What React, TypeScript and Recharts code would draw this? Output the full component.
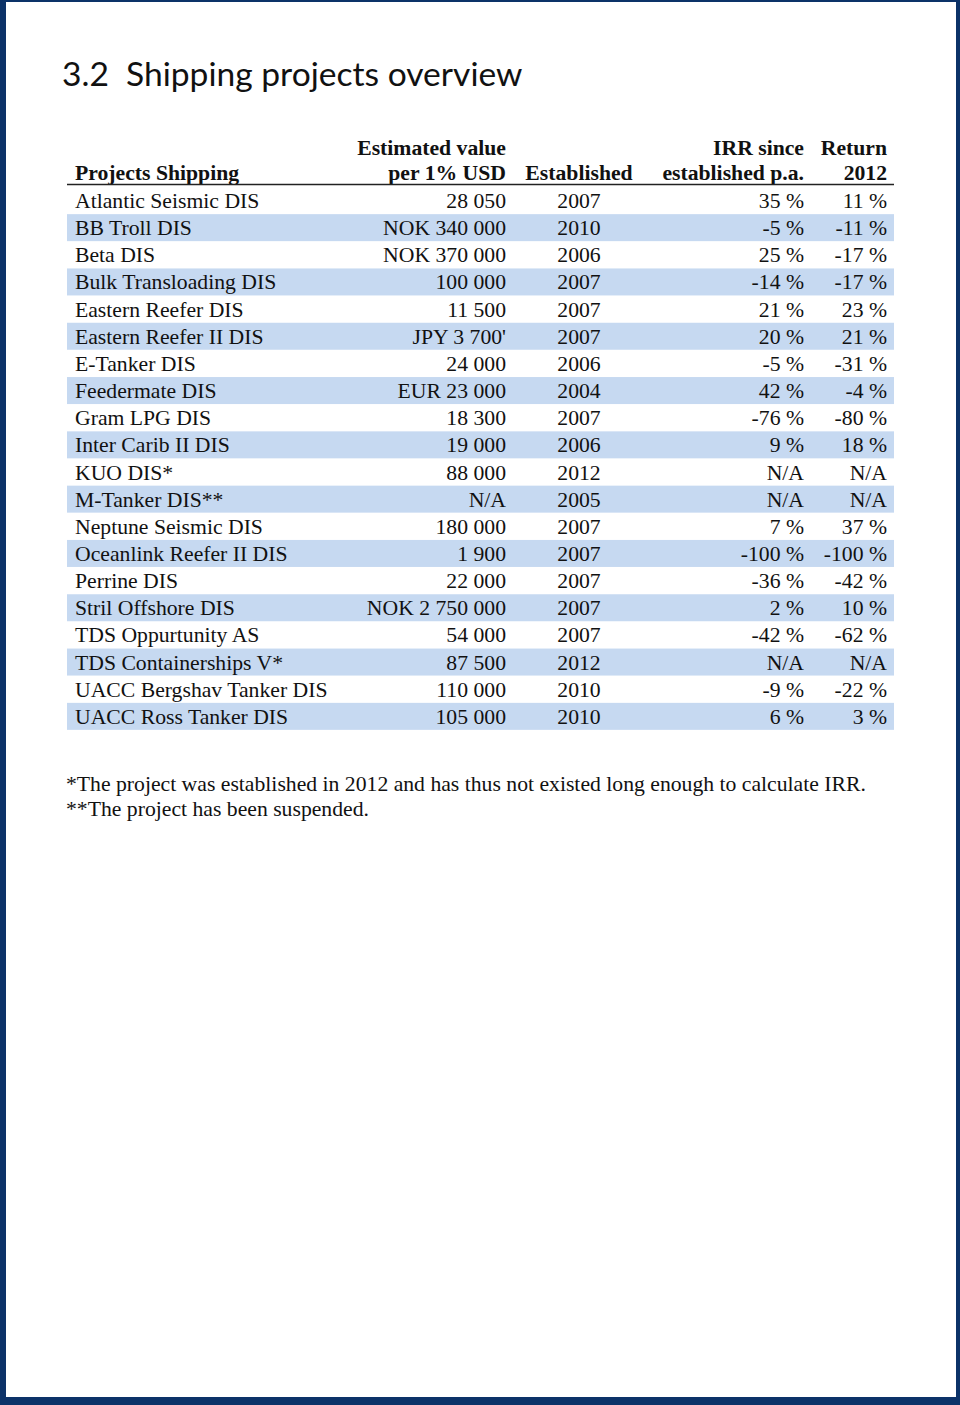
import { BarChart, Bar, XAxis, YAxis, LabelList } from "recharts";

const projects = [
  "Atlantic Seismic DIS",
  "BB Troll DIS",
  "Beta DIS",
  "Bulk Transloading DIS",
  "Eastern Reefer DIS",
  "Eastern Reefer II DIS",
  "E-Tanker DIS",
  "Feedermate DIS",
  "Gram LPG DIS",
  "Inter Carib II DIS",
  "KUO DIS*",
  "M-Tanker DIS**",
  "Neptune Seismic DIS",
  "Oceanlink Reefer II DIS",
  "Perrine DIS",
  "Stril Offshore DIS",
  "TDS Oppurtunity AS",
  "TDS Containerships V*",
  "UACC Bergshav Tanker DIS",
  "UACC Ross Tanker DIS",
];

const estValue = [
  "28 050", "NOK 340 000", "NOK 370 000", "100 000", "11 500", "JPY 3 700'",
  "24 000", "EUR 23 000", "18 300", "19 000", "88 000", "N/A", "180 000",
  "1 900", "22 000", "NOK 2 750 000", "54 000", "87 500", "110 000", "105 000",
];

const established = [
  2007, 2010, 2006, 2007, 2007, 2007, 2006, 2004, 2007, 2006, 2012, 2005,
  2007, 2007, 2007, 2007, 2007, 2012, 2010, 2010,
];

const irr: (number | null)[] = [
  35, -5, 25, -14, 21, 20, -5, 42, -76, 9, null, null, 7, -100, -36, 2, -42,
  null, -9, 6,
];

const return2012: (number | null)[] = [
  11, -11, -17, -17, 23, 21, -31, -4, -80, 18, null, null, 37, -100, -42, 10,
  -62, null, -22, 3,
];

const footnotes = [
  "*The project was established in 2012 and has thus not existed long enough to calculate IRR.",
  "**The project has been suspended.",
];

const pct = (v: number | null) => (v === null ? "N/A" : `${v} %`);

const rows = projects.map((name, i) => ({
  name,
  value: estValue[i],
  established: established[i],
  irr: pct(irr[i]),
  ret: pct(return2012[i]),
}));

const SERIF = "'Liberation Serif', 'Times New Roman', serif";
const FS = 21.7;
const BORDER = "#0c3268";
const STRIPE = "#c6d9f1";

// column anchors, relative to the table's left edge (67px)
const COLS = {
  name: { dx: 8, anchor: "start" },
  value: { dx: 439, anchor: "end" },
  established: { dx: 512, anchor: "middle" },
  irr: { dx: 737, anchor: "end" },
  ret: { dx: 820, anchor: "end" },
} as const;

const cell = (col: keyof typeof COLS) => (props: any) => {
  const vb = props.viewBox || props;
  const y = vb.y + vb.height / 2 + 7.5;
  return (
    <text
      x={67 + COLS[col].dx}
      y={y}
      textAnchor={COLS[col].anchor}
      fontFamily={SERIF}
      fontSize={FS}
      fill="#111"
    >
      {props.value}
    </text>
  );
};

export default function App() {
  return (
    <div
      style={{
        position: "absolute",
        left: 0,
        top: 0,
        width: 960,
        height: 1405,
        boxSizing: "border-box",
        borderLeft: `6px solid ${BORDER}`,
        borderTop: `2px solid ${BORDER}`,
        borderRight: `4px solid ${BORDER}`,
        borderBottom: `8px solid ${BORDER}`,
        background: "#fff",
      }}
    >
      <svg
        width={960}
        height={1405}
        style={{ position: "absolute", left: -6, top: -2 }}
      >
        <text x={62} y={86} fontFamily="Lato, 'Noto Sans', sans-serif" fontSize={33.6} fill="#111">
          3.2{"\u00a0\u00a0"}Shipping projects overview
        </text>
        <g fontFamily={SERIF} fontSize={FS} fontWeight="bold" fill="#111">
          <text x={75} y={180}>Projects Shipping</text>
          <text x={506} y={155} textAnchor="end">Estimated value</text>
          <text x={506} y={180} textAnchor="end">per 1% USD</text>
          <text x={579} y={180} textAnchor="middle">Established</text>
          <text x={804} y={155} textAnchor="end">IRR since</text>
          <text x={804} y={180} textAnchor="end">established p.a.</text>
          <text x={887} y={155} textAnchor="end">Return</text>
          <text x={887} y={180} textAnchor="end">2012</text>
        </g>
        <line x1={67} x2={894} y1={184.5} y2={184.5} stroke="#222" strokeWidth={1.3} />
        <g fontFamily={SERIF} fontSize={FS} fill="#111">
          {footnotes.map((t, i) => (
            <text key={i} x={66} y={791 + i * 25}>
              {t}
            </text>
          ))}
        </g>
      </svg>
      <div style={{ position: "absolute", left: -6, top: 185 }}>
        <BarChart
          width={960}
          height={543}
          data={rows}
          layout="vertical"
          barCategoryGap={0}
          margin={{ top: 0, right: 66, bottom: 0, left: 67 }}
        >
          <XAxis type="number" hide domain={[0, 2100]} />
          <YAxis type="category" dataKey="name" hide />
          <Bar
            dataKey="established"
            fill="none"
            isAnimationActive={false}
            background={(p: any) =>
              p.index % 2 === 1 ? (
                <rect key={`bg-${p.index}`} x={p.x} y={p.y} width={p.width} height={p.height} fill={STRIPE} />
              ) : (
                <g key={`bg-${p.index}`} />
              )
            }
          >
            <LabelList dataKey="name" content={cell("name")} />
            <LabelList dataKey="value" content={cell("value")} />
            <LabelList dataKey="established" content={cell("established")} />
            <LabelList dataKey="irr" content={cell("irr")} />
            <LabelList dataKey="ret" content={cell("ret")} />
          </Bar>
        </BarChart>
      </div>
    </div>
  );
}
